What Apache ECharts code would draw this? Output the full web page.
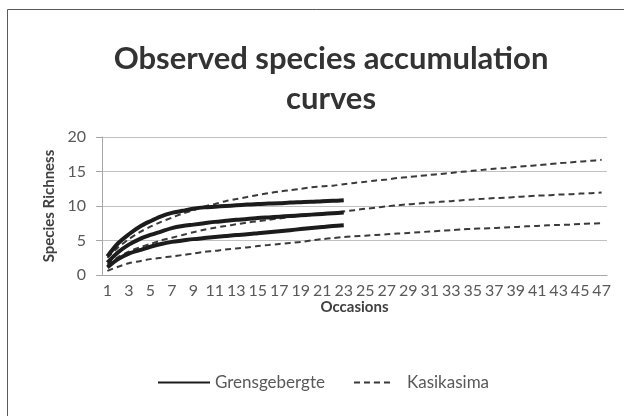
<!DOCTYPE html>
<html><head><meta charset="utf-8">
<script src="https://cdn.jsdelivr.net/npm/echarts@6/dist/echarts.min.js"></script>
<style>html,body{margin:0;padding:0;background:#fff}#c{width:624px;height:416px}</style>
</head><body><div id="c"></div>
<script>
var occasions = [];
for (var i = 1; i <= 47; i++) occasions.push(String(i));

var grensUpper = [2.7,4.6,5.9,7.0,7.8,8.5,9.0,9.3,9.6,9.8,9.9,10.0,10.1,10.2,10.3,10.35,10.4,10.5,10.55,10.6,10.7,10.75,10.85];
var grensMean  = [1.8,3.3,4.4,5.2,5.8,6.3,6.8,7.1,7.3,7.5,7.7,7.85,8.0,8.1,8.25,8.35,8.45,8.55,8.65,8.75,8.85,8.95,9.05];
var grensLower = [1.1,2.3,3.1,3.6,4.1,4.5,4.8,5.0,5.2,5.35,5.5,5.65,5.8,5.9,6.05,6.2,6.35,6.5,6.65,6.8,6.95,7.1,7.2];

var kasiUpper = [2.5,4.0,5.2,6.2,7.0,7.7,8.3,8.9,9.4,9.9,10.3,10.7,11.0,11.3,11.6,11.85,12.1,12.3,12.5,12.7,12.85,12.95,13.15,13.35,13.5,13.7,13.85,14.05,14.2,14.35,14.5,14.65,14.8,14.95,15.1,15.25,15.4,15.5,15.65,15.8,15.9,16.05,16.2,16.3,16.45,16.55,16.7];
var kasiMean  = [1.5,2.6,3.4,4.0,4.5,5.0,5.4,5.8,6.2,6.55,6.85,7.1,7.35,7.6,7.8,8.0,8.2,8.4,8.55,8.7,8.85,9.0,9.2,9.4,9.6,9.75,9.95,10.1,10.25,10.35,10.5,10.6,10.7,10.85,10.95,11.05,11.15,11.2,11.3,11.4,11.5,11.55,11.65,11.7,11.8,11.85,11.95];
var kasiLower = [0.6,1.2,1.7,2.0,2.3,2.5,2.7,2.9,3.1,3.35,3.5,3.7,3.85,4.0,4.2,4.35,4.5,4.65,4.8,5.0,5.2,5.35,5.5,5.6,5.7,5.8,5.9,6.0,6.1,6.2,6.3,6.4,6.5,6.6,6.7,6.75,6.8,6.9,6.95,7.05,7.1,7.2,7.25,7.3,7.4,7.45,7.5];

var yTicks = [0, 5, 10, 15, 20];
var titleText = 'Observed species accumulation\ncurves';

var FONT = 'Lato';
function solid(d) {
  return {name:'Grensgebergte', type:'line', data:d, smooth:0.3, symbol:'none',
    lineStyle:{color:'#1c1c1c', width:4}, itemStyle:{color:'#1c1c1c'}, z:3};
}
function dashed(d) {
  return {name:'Kasikasima', type:'line', data:d, smooth:0.3, symbol:'none',
    lineStyle:{color:'#3a3a3a', width:2, type:[6,4]}, itemStyle:{color:'#3a3a3a'}, z:2};
}
var legendText = {fontFamily:FONT, fontSize:17, color:'#595959'};
var chart = echarts.init(document.getElementById('c'), null, {renderer:'canvas'});
chart.setOption({
  animation:false,
  backgroundColor:'#fff',
  textStyle:{fontFamily:FONT},
  graphic:[{type:'rect', shape:{x:7.5, y:9.5, width:700, height:500}, style:{fill:'none', stroke:'#5a5a5a', lineWidth:1}, silent:true}],
  title:{text:titleText, left:326, textAlign:'center', top:34,
    textStyle:{fontFamily:FONT, fontSize:31, fontWeight:'bold', color:'#333', lineHeight:40}},
  grid:{left:102, right:17, top:137, bottom:141, containLabel:false},
  legend:[
    {data:['Grensgebergte'], left:157, top:374, padding:0, itemWidth:52, itemHeight:1, itemGap:0,
      textStyle:legendText},
    {data:['Kasikasima'], left:353, top:374, padding:0, itemWidth:40, itemHeight:1, itemGap:0,
      textStyle:Object.assign({padding:[0,0,0,8]}, legendText)}
  ],
  xAxis:{type:'category', data:occasions, boundaryGap:true,
    name:'Occasions', nameLocation:'middle', nameGap:19,
    nameTextStyle:{fontFamily:FONT, fontSize:15, fontWeight:'bold', color:'#404040'},
    axisLine:{lineStyle:{color:'#a6a6a6'}}, axisTick:{show:false},
    axisLabel:{interval:1, fontFamily:FONT, fontSize:16, color:'#595959', margin:8}},
  yAxis:{type:'value', min:yTicks[0], max:yTicks[yTicks.length-1], interval:5,
    name:'Species Richness', nameLocation:'middle', nameGap:40,
    nameTextStyle:{fontFamily:FONT, fontSize:15, fontWeight:'bold', color:'#404040'},
    axisLine:{show:true, lineStyle:{color:'#a6a6a6'}},
    axisTick:{show:true, length:6, lineStyle:{color:'#a6a6a6'}},
    splitLine:{lineStyle:{color:'#c0c0c0'}},
    axisLabel:{fontFamily:FONT, fontSize:16, color:'#595959', margin:16}},
  series:[dashed(kasiUpper), dashed(kasiMean), dashed(kasiLower), solid(grensUpper), solid(grensMean), solid(grensLower)]
});
</script></body></html>
